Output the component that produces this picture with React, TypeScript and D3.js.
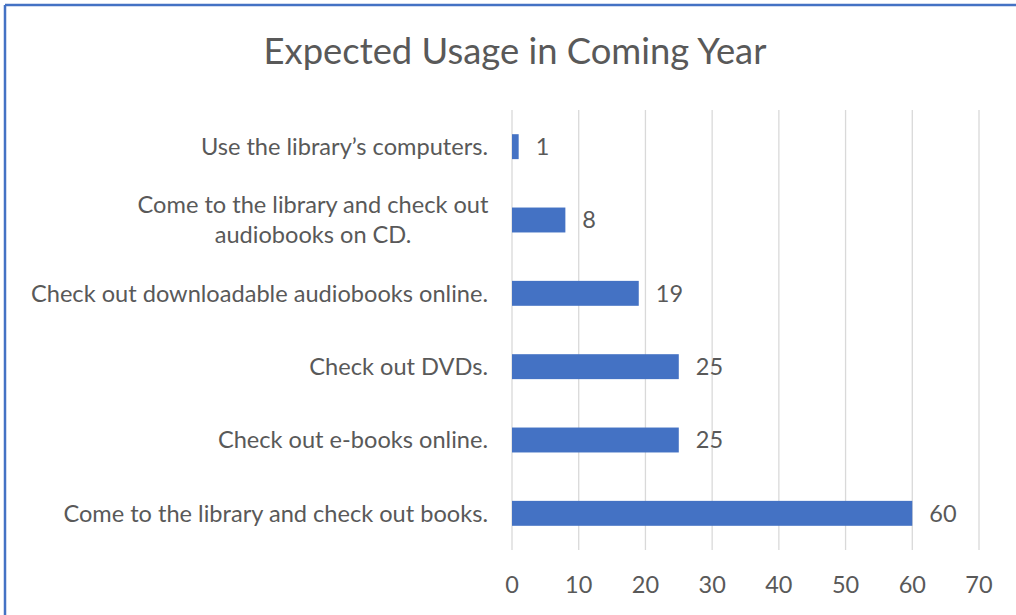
import React from "react";
import * as d3 from "d3";

const categories: string[][] = [
  ["Use the library\u2019s computers."],
  ["Come to the library and check out", "audiobooks on CD."],
  ["Check out downloadable audiobooks online."],
  ["Check out DVDs."],
  ["Check out e-books online."],
  ["Come to the library and check out books."],
];
const values: number[] = [1, 8, 19, 25, 25, 60];
const tickValues: number[] = [0, 10, 20, 30, 40, 50, 60, 70];
const title = "Expected Usage in Coming Year";

const W = 1016;
const H = 615;
const FONT = "Lato, 'Open Sans', sans-serif";
const TEXT = "#595959";
const BAR = "#4472C4";
const GRID = "#D9D9D9";
const LABEL_SIZE = 23.6;

export default function App() {
  const x = d3.scaleLinear().domain([0, 70]).range([512, 979]);
  const idx = categories.map((_, i) => String(i));
  const y = d3.scaleBand().domain(idx).range([110, 550]).paddingInner(0.66).paddingOuter(0.33);
  const bw = y.bandwidth();

  return (
    <div style={{ position: "absolute", left: 0, top: 0 }}>
      <svg width={W} height={H} style={{ display: "block", background: "#fff" }}>
        <line x1={5} y1={5} x2={W} y2={5} stroke={BAR} strokeWidth={2.5} />
        <line x1={5} y1={5} x2={5} y2={H} stroke={BAR} strokeWidth={2.5} />
        <text x={515} y={64} textAnchor="middle" fontFamily={FONT} fontSize={36.4} fill={TEXT}>
          {title}
        </text>
        {tickValues.map((t) => (
          <g key={t}>
            <line x1={x(t)} x2={x(t)} y1={110} y2={550} stroke={GRID} strokeWidth={1.3} />
            <text x={x(t)} y={593} textAnchor="middle" fontFamily={FONT} fontSize={23.5} fill={TEXT}>
              {t}
            </text>
          </g>
        ))}
        {values.map((v, i) => {
          const y0 = y(String(i))!;
          const cy = y0 + bw / 2;
          const lines = categories[i];
          return (
            <g key={i}>
              <rect x={x(0)} y={y0} width={x(v) - x(0)} height={bw} fill={BAR} />
              <text x={x(v) + 17} y={cy} dy="0.35em" fontFamily={FONT} fontSize={23.5} fill={TEXT}>
                {v}
              </text>
              {lines.length === 1 ? (
                <text x={488} y={cy} dy="0.35em" textAnchor="end" fontFamily={FONT} fontSize={LABEL_SIZE} fill={TEXT}>
                  {lines[0]}
                </text>
              ) : (
                <text x={313} y={cy} textAnchor="middle" fontFamily={FONT} fontSize={LABEL_SIZE} fill={TEXT}>
                  {lines.map((l, j) => (
                    <tspan key={j} x={313} y={cy + (j - (lines.length - 1) / 2) * 30} dy="0.35em">
                      {l}
                    </tspan>
                  ))}
                </text>
              )}
            </g>
          );
        })}
      </svg>
    </div>
  );
}
